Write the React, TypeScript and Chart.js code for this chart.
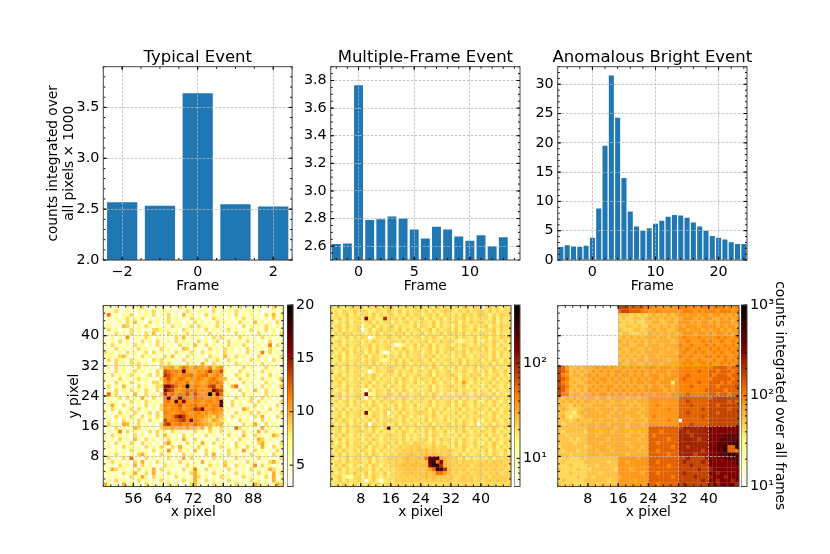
import { useEffect, useRef } from "react"
import { Chart, registerables } from "chart.js"

Chart.register(...registerables)

const FONT = "'DejaVu Sans'"

// ---- bar data ----
const typicalFrames = [-2, -1, 0, 1, 2]
const typicalCounts = [2.567, 2.534, 3.64, 2.548, 2.525]

const multiFrames = [-2, -1, 0, 1, 2, 3, 4, 5, 6, 7, 8, 9, 10, 11, 12, 13]
const multiCounts = [2.615, 2.62, 3.765, 2.79, 2.795, 2.815, 2.8, 2.72, 2.656, 2.74, 2.72, 2.67, 2.64, 2.68, 2.6, 2.665]

const brightFrames = [-5, -4, -3, -2, -1, 0, 1, 2, 3, 4, 5, 6, 7, 8, 9, 10, 11, 12, 13, 14, 15, 16, 17, 18, 19, 20, 21, 22, 23, 24]
const brightCounts = [2.2, 2.5, 2.3, 2.25, 2.45, 3.8, 8.8, 19.5, 31.5, 24.3, 14, 8.3, 5.7, 5, 5.4, 6.2, 6.7, 7.4, 7.7, 7.6, 7.2, 6.4, 5.7, 5, 4.1, 3.8, 3.5, 3.05, 2.75, 2.75]

// ---- heatmap cells, estimated by eye: rows run top (y=47) to bottom (y=0), one char per cell.
// Blocks and standout cells follow the picture, the fine noise is only approximate. ----
const typicalLevels = [3, 3, 3, 3, 3.5, 4, 5, 6, 7, 8.5, 9.5, 10, 10.5, 11, 11.5, 12, 13, 14, 15.5, 17, 20] // chars 0-9, a-k
const typicalRows = [
  "67585476 68956486 57649675 76584967 57869475 68574968",
  "56794685 57486957 86574697 58674957 68495768 57406857",
  "6e574869 47685947 69574a68 57496857 58594768 57496a57",
  "47685796 86957486 59684759 68474986 57486957 86584968",
  "57468597 a5749685 79586475 96857496 85749685 a6857496",
  "68574a96 58697485 74968579 49685796 58674958 68597486",
  "59684759 68574998 68574967 58496857 69485769 58496857",
  "47596859 57496a58 59684795 86759486 47496857 49675849",
  "568475d5 68597486 57496a58 67485969 75849685 74968574",
  "74859685 74968597 48596857 49685794 69578496 85749658",
  "85967485 96847596 85749685 a7496857 49685974 6857e496",
  "47596857 49685749 68574a96 85749685 96857496 85749857",
  "96858496 85794968 57496859 74968574 96857496 57e49685",
  "58769a85 74968574 96a57496 85749685 a7496857 49685749",
  "69598749 68574989 68574968 57496897 49685749 68574968",
  "57496859 79685749 69857496 85b74968 57498685 74968574",
  "58496857 49685749 bac9bfca dbcae9bd 68574968 57496857",
  "57496857 96857496 gfdecjcb bdcehcdg 85749685 74968574",
  "74968579 68579498 hgedceef cdefbcec 57498596 85749685",
  "85749685 79685749 egdcfebd cedbdfcb a5749685 7496857a",
  "57496859 68574998 dfcedcfb dcbcedfd 68574968 57496857",
  "69585a76 49685799 iihfcekc edcdghce 57af4685 7496857a",
  "57496859 68597496 ihgcldfe fcdcdihg 85749685 a7496857",
  "5f794685 a7496859 hdfcedgc gdcdkcif 68574968 57496857",
  "68579496 85b74968 ejcdiedc fdecdceb 57496859 74968574",
  "47685749 68597685 dfcjeidc edcdecdj 74968579 49685749",
  "58b74968 57496859 ecdegcde fcdecedj 74968574 96857496",
  "74968579 49685749 dcedfcde hgicdecd 68574b96 85749685",
  "85749685 96579496 edcdefdc decdbdcb 57496879 49685749",
  "57496859 74968597 dcehihed ecdba9ca 74968574 96b57496",
  "68574968 59749685 gdefghei edba9ca9 85749685 74968574",
  "49685ba7 49685749 ghdefdec fdcba9ab 68574968 b7496857",
  "57496857 b9685749 bacabaca a9b8a879 574f9685 74b68574",
  "5857e496 85749697 85968574 96859749 68574968 5b496857",
  "74968574 96857496 a8574968 57496857 49685a74 96857b96",
  "85749685 a7496857 49685b74 96857496 85749685 7b968574",
  "57496859 74968574 9c857496 85b74968 57496857 49b85749",
  "68574968 57496859 7496b857 49685749 68597496 85b74968",
  "47685749 68574968 5d749685 a7496857 49685c74 96857496",
  "58496857 49b85749 68574968 57496b57 49685749 68574968",
  "6957496f 57496857 49685b49 68574968 57496857 49685749",
  "74968574 96b57496 85749685 74b68574 96857496 85749b85",
  "85749685 b4968574 96857496 85749685 a7496857 d4968574",
  "57b96857 49685b49 68574968 e7496857 49685749 6857b968",
  "68574968 b7496b57 49685749 b8574968 57496857 49685b49",
  "47685749 68b74968 57496857 b9685749 68574968 57496b57",
  "58496857 49685749 68574968 b7496857 49685749 68574b68",
  "b8574b68 57496857 49685749 a8574968 57496857 b96857b9",
]

const multiLevels = [5.5, 12, 14.5, 16.5, 18, 20, 22, 24, 27, 34, 50, 90, 130, 170, 250] // chars 0-9, a-e
const multiRows = [
  "54634756 53647456 63546475 54637465 46375465 05746364",
  "45365474 65346547 54736456 47364576 53647456 64736455",
  "36457364 56473645 64537465 35647365 46375647 75364756",
  "54736456 4c5634b5 56473645 73645736 46573645 56473645",
  "63547365 45736456 36457364 65473645 57364756 64573645",
  "45637456 15473645 73645473 65473645 36475364 57364756",
  "54736456 04635746 54736456 45736456 47365473 46573645",
  "36475645 53647365 46573645 73645736 56473645 65473645",
  "63547364 65036547 54736456 36475364 47365473 57364756",
  "45736456 36475364 65473645 57364756 64135473 36475364",
  "54637456 45736456 40135473 64736456 36475364 65473645",
  "36475364 54736456 36475364 45736456 75364756 47365473",
  "63547365 63647301 53647456 35647365 46573645 56473645",
  "45736456 47365473 64736456 46573645 36475364 65473645",
  "54736456 36475314 57364756 54736456 45736456 36475364",
  "36457364 56473645 36475364 65473645 64737465 54736456",
  "54637456 45736456 65473645 36475364 47365473 65473645",
  "63547365 54036547 73645736 54736456 36475364 47365473",
  "45736456 36475364 54736456 45736456 75364756 36457364",
  "36475364 65473645 36475364 65473645 47365473 65473645",
  "54736456 45736456 47365473 36475364 36495364 45736456",
  "45637456 47365473 65473645 54736456 65473645 36475364",
  "63547365 30636547 36475364 45736456 47365473 54736456",
  "45736456 4c136547 54736456 36475364 36475364 65473645",
  "54736456 40636475 36475364 65473645 54736456 45736456",
  "36457364 65473645 65473645 54736456 47365473 36475364",
  "63547365 36475364 47365473 45736456 36475364 65473645",
  "16473645 54736456 36475364 47365473 45736456 54736456",
  "54637456 4c365470 54736456 65473645 47365473 36475364",
  "45736456 36475364 36475364 36475364 54736456 65473645",
  "36475364 54736456 65473645 47365473 47365473 36475364",
  "63547365 47065473 47365473 54736456 36475360 54736456",
  "54736456 3647536d 54736456 46573645 56473645 36475364",
  "45637456 65473645 36475364 47365473 36475364 65473645",
  "36475364 45736456 65473645 36475364 54736456 47365473",
  "54736456 36475364 56473645 57364756 36475364 54736456",
  "63547365 54736456 47365476 65473645 47365473 36475364",
  "45736456 47365473 64756767 56575674 36475364 65473645",
  "36475364 65473645 46576767 78676767 65473645 47365473",
  "54736456 36475364 65767876 78787767 54736456 36475364",
  "63547365 45736456 67678778 7adde987 67473645 54736566",
  "45637456 54736456 57678787 78deac87 67576756 67576756",
  "36475364 36475364 67787887 88ceeb87 76767567 76767675",
  "54736456 65473645 56778787 789aeeb8 67675676 67676756",
  "63546475 47365473 56677877 7878aa98 67567567 65767567",
  "45731156 36475364 56767676 78787776 75676756 67576766",
  "54736456 40473045 47676767 67676767 65676756 56767675",
  "36475364 54736456 56565656 65656556 56565656 56565656",
]

const brightLevels = [35, 45, 55, 65, 80, 100, 130, 170, 230, 320, 430, 600] // chars 0-9, a, b
const brightRows = [
  "........ ........ 77766665 54444444 55545455 45554545",
  "........ ........ 67766655 44544444 45554545 55455545",
  "........ ........ 22212121 23232323 44344344 34434343",
  "........ ........ 12112212 32323232 34443434 43343434",
  "........ ........ 21212112 23322332 44434344 34344434",
  "........ ........ 11221211 32232323 43444344 44343443",
  "........ ........ 21112212 23233223 44344434 34434344",
  "........ ........ 12211121 32323232 34443443 43443434",
  "........ ........ 23232323 33233233 45444544 44545445",
  "........ ........ 32323232 32333323 44544454 54454454",
  "........ ........ 23322332 33323333 54454445 45445454",
  "........ ........ 32233223 23333233 44544544 54544545",
  "........ ........ 23232323 33323332 45445454 45454454",
  "........ ........ 32323232 33233333 54454445 54545445",
  "........ ........ 23232332 33333233 44544544 45445454",
  "........ ........ 32233223 23323333 45454454 54454545",
  "76422323 33434343 34343434 44344434 55555555 56666566",
  "76523232 34343434 43434343 43444344 55555655 66566656",
  "75423323 43433434 34434343 44434344 55655555 65666566",
  "76532232 34344343 43343434 34434443 56555555 56666656",
  "75423223 43434334 34343443 44344404 55555655 66656566",
  "76532332 34343443 43434334 34434434 55565555 66566667",
  "76423232 43433434 34343434 44443434 55555556 66665666",
  "75523323 34344343 43434343 43444344 55655555 66566566",
  "32323232 33233233 33233233 44444444 66666666 67777777",
  "23232323 32323323 32332333 44444444 66766666 77777676",
  "32213232 23333233 33323233 44544444 66676666 77677777",
  "23211223 33233332 33233323 44444544 66666676 77777677",
  "22110232 33323323 23333233 44444444 66766666 77677777",
  "23101123 33333233 33233323 45444444 66666676 77777777",
  "22212322 23323332 33323332 44444544 .6666666 77777777",
  "21222232 33233233 33233323 44444444 66676666 77777777",
  "22222222 33233332 33233333 66666666 78888888 99999999",
  "21222221 33323323 33323233 66656666 88788888 99999999",
  "22122222 33233333 33233323 65666666 88878888 9999aaaa",
  "22212122 33333233 33333233 66666566 88888788 999aaaaa",
  "22221222 33323333 33233333 66566666 88888888 99aaaabb",
  "12222221 23333233 33323323 66666656 88788888 99aab66b",
  "21222122 33233323 33333233 66566666 88888878 99aab665",
  "22212222 33323333 33233333 66666566 88887888 999aabba",
  "11211121 22222222 44444344 66666666 77877778 9999aaaa",
  "12111112 22222122 44344444 66566666 78777787 9999999a",
  "11121111 22122222 44444444 66666566 77787777 99999999",
  "21111211 12222221 44434444 66666666 77777877 89999999",
  "11121111 22212222 44444434 66566666 78777777 99899999",
  "11111211 21222222 34444444 66666656 77778777 89998999",
  "12111112 22222122 44443444 66666666 77777787 99899989",
  "21121111 22122222 44444444 66566666 78777777 89899998",
]

// ---- ticks and colour limits ----
const typicalXTicks = [-2, 0, 2]
const typicalYTicks = [2, 2.5, 3, 3.5]
const multiXTicks = [0, 5, 10]
const multiYTicks = [2.6, 2.8, 3, 3.2, 3.4, 3.6, 3.8]
const brightXTicks = [0, 10, 20]
const brightYTicks = [0, 5, 10, 15, 20, 25, 30]
const heatXTicksTypical = [56, 64, 72, 80, 88]
const heatXTicks = [8, 16, 24, 32, 40]
const heatYTicks = [8, 16, 24, 32, 40]
const cbTicksTypical = [5, 10, 15, 20]
const cbTicksMulti = [10, 100]
const cbMinorMulti = [6, 7, 8, 9, 20, 30, 40, 50, 60, 70, 80, 90, 200, 300, 400]
const cbTicksBright = [10, 100, 1000]
const cbMinorBright = [20, 30, 40, 50, 60, 70, 80, 90, 200, 300, 400, 500, 600, 700, 800, 900]

const SUPER: Record<number, string> = { 10: "10¹", 100: "10²", 1000: "10³" }

type Frame = { left: number; top: number; width: number; height: number }

// matplotlib afmhot_r
function afmhotR(t: number) {
  const x = 1 - Math.min(1, Math.max(0, t))
  const c = (v: number) => Math.round(255 * Math.min(1, Math.max(0, v)))
  return `rgb(${c(2 * x)},${c(2 * x - 0.5)},${c(2 * x - 1)})`
}

// ticks pointing inward on every side, the frame, and the panel title centred on the axes
const framePlugin = {
  id: "frameTicks",
  afterDraw(chart: any, _args: any, opts: any) {
    const { ctx, chartArea: a, scales } = chart
    ctx.save()
    ctx.strokeStyle = "#000"
    ctx.lineWidth = 1
    const mark = (x0: number, y0: number, x1: number, y1: number) => {
      ctx.beginPath()
      ctx.moveTo(x0, y0)
      ctx.lineTo(x1, y1)
      ctx.stroke()
    }
    const sets = [
      [opts.xMajor || [], 3.5],
      [opts.xMinor || [], 2],
    ]
    for (const [vals, len] of sets as [number[], number][]) {
      for (const v of vals) {
        const p = scales.x.getPixelForValue(v)
        mark(p, a.bottom, p, a.bottom - len)
        mark(p, a.top, p, a.top + len)
      }
    }
    const ysets = [
      [opts.yMajor || [], 3.5],
      [opts.yMinor || [], 2],
    ]
    for (const [vals, len] of ysets as [number[], number][]) {
      for (const v of vals) {
        const p = scales.y.getPixelForValue(v)
        if (!opts.rightOnly) mark(a.left, p, a.left + len, p)
        mark(a.right, p, a.right - len, p)
      }
    }
    ctx.strokeStyle = "#444"
    ctx.lineWidth = 1
    ctx.strokeRect(a.left, a.top, a.right - a.left, a.bottom - a.top)
    if (opts.title) {
      ctx.fillStyle = "#000"
      ctx.font = `16.5px ${FONT}`
      ctx.textAlign = "center"
      ctx.textBaseline = "alphabetic"
      ctx.fillText(opts.title, (a.left + a.right) / 2, a.top - 5)
    }
    ctx.restore()
  },
}

const gridOpts = { z: 1, color: "#b8b8b8", lineWidth: 0.8, drawTicks: false, offset: false }
const borderOpts = { display: false, dash: [2.5, 1.5] }

function axis(min: number, max: number, ticks: number[], size: number, fmt: (v: number) => string, pad = 4) {
  return {
    type: "linear",
    min,
    max,
    offset: false,
    afterBuildTicks: (s: any) => {
      s.ticks = ticks.map((value) => ({ value }))
    },
    grid: gridOpts,
    border: borderOpts,
    ticks: { color: "#000", font: { family: FONT, size }, padding: pad, maxRotation: 0, autoSkip: false, callback: (v: any) => fmt(Number(v)) },
  }
}

const intLabel = (v: number) => (v < 0 ? "\u2212" + Math.abs(v) : String(v))

function ChartBox({ frame, ml, mr, mt, mb, make }: { frame: Frame; ml: number; mr: number; mt: number; mb: number; make: (m: any) => any }) {
  const ref = useRef<HTMLCanvasElement>(null)
  const canvasLeft = Math.floor(frame.left - ml)
  const canvasTop = Math.floor(frame.top - mt)
  const marginLeft = frame.left - canvasLeft
  const marginTop = frame.top - canvasTop
  const w = Math.ceil(marginLeft + frame.width + mr)
  const h = Math.ceil(marginTop + frame.height + mb)
  const marginRight = w - marginLeft - frame.width
  const marginBottom = h - marginTop - frame.height

  useEffect(() => {
    if (!ref.current) return
    const chart = new Chart(ref.current, make({ marginLeft, marginTop, marginRight, marginBottom }))
    return () => chart.destroy()
  }, [])

  return <canvas ref={ref} width={w} height={h} style={{ position: "absolute", left: canvasLeft, top: canvasTop, width: w, height: h }} />
}

function barConfig(m: any, title: string, frames: number[], values: number[], xMin: number, xMax: number, yMin: number, yMax: number, xTicks: number[], yTicks: number[], xMinor: number[], yMinor: number[], yFmt: (v: number) => string, yTitle?: string[]) {
  return {
    type: "bar",
    data: {
      datasets: [
        {
          data: frames.map((x, i) => ({ x, y: values[i] })),
          backgroundColor: "#1f77b4",
          borderWidth: 0,
          categoryPercentage: 0.8,
          barPercentage: 1,
        },
      ],
    },
    options: {
      responsive: false,
      animation: false,
      layout: { padding: { top: m.marginTop, right: m.marginRight, left: 0, bottom: 0 } },
      plugins: {
        legend: { display: false },
        tooltip: { enabled: false },
        frameTicks: { title, xMajor: xTicks, xMinor, yMajor: yTicks, yMinor },
      },
      scales: {
        x: {
          ...axis(xMin, xMax, xTicks, 14.3, intLabel),
          afterFit: (s: any) => {
            s.height = m.marginBottom
          },
          title: { display: true, text: "Frame", color: "#000", font: { family: FONT, size: 13.8, lineHeight: 1.2 }, padding: 0 },
        },
        y: {
          ...axis(yMin, yMax, yTicks, 14.3, yFmt),
          afterFit: (s: any) => {
            s.width = m.marginLeft
          },
          title: yTitle ? { display: true, text: yTitle, color: "#000", font: { family: FONT, size: 13.7, lineHeight: 1.2 }, padding: 0 } : { display: false },
        },
      },
    },
    plugins: [framePlugin],
  }
}

function heatConfig(m: any, frame: Frame, rows: string[], levels: number[], xMin: number, xTicks: number[], norm: (v: number) => number, showY: boolean) {
  const points: { x: number; y: number; v: number }[] = []
  rows.forEach((row, r) => {
    const cells = row.replace(/ /g, "")
    for (let c = 0; c < Math.min(48, cells.length); c++) {
      if (cells[c] === ".") continue
      points.push({ x: xMin + c + 0.5, y: rows.length - 1 - r + 0.5, v: levels[parseInt(cells[c], 36)] })
    }
  })
  const side = frame.width / 48 + 0.25
  const evens = (from: number) => Array.from({ length: 24 }, (_, i) => from + i * 2)
  return {
    type: "scatter",
    data: {
      datasets: [
        {
          data: points,
          pointStyle: "rect",
          pointRadius: side / Math.SQRT2,
          pointBorderWidth: 0,
          pointBackgroundColor: (ctx: any) => afmhotR(norm(ctx.raw ? ctx.raw.v : 0)),
        },
      ],
    },
    options: {
      responsive: false,
      animation: false,
      events: [],
      layout: { padding: { top: m.marginTop, right: m.marginRight, left: 0, bottom: 0 } },
      plugins: {
        legend: { display: false },
        tooltip: { enabled: false },
        frameTicks: { xMajor: xTicks, xMinor: evens(xMin), yMajor: heatYTicks, yMinor: evens(0) },
      },
      scales: {
        x: {
          ...axis(xMin, xMin + 48, xTicks, 14.3, intLabel),
          afterFit: (s: any) => {
            s.height = m.marginBottom
          },
          title: { display: true, text: "x pixel", color: "#000", font: { family: FONT, size: 13.8, lineHeight: 1.2 }, padding: 0 },
        },
        y: {
          ...axis(0, 48, heatYTicks, 14.3, (v) => (showY ? intLabel(v) : "")),
          afterFit: (s: any) => {
            s.width = m.marginLeft
          },
          title: showY ? { display: true, text: "y pixel", color: "#000", font: { family: FONT, size: 13.7, lineHeight: 1.2 }, padding: 0 } : { display: false },
        },
      },
    },
    plugins: [framePlugin],
  }
}

function colorbarConfig(m: any, type: string, min: number, max: number, ticks: number[], minor: number[], fmt: (v: number) => string, title?: string) {
  const stops = (chart: any) => {
    const a = chart.chartArea
    if (!a) return "#000"
    const g = chart.ctx.createLinearGradient(0, a.bottom, 0, a.top)
    for (const t of [0, 0.25, 0.5, 0.75, 1]) g.addColorStop(t, afmhotR(t))
    return g
  }
  return {
    type: "bar",
    data: {
      labels: [""],
      datasets: [{ data: [[min, max]], backgroundColor: (ctx: any) => stops(ctx.chart), categoryPercentage: 1, barPercentage: 1, borderWidth: 0, borderSkipped: false }],
    },
    options: {
      responsive: false,
      animation: false,
      events: [],
      layout: { padding: { top: m.marginTop, bottom: m.marginBottom, left: 0, right: 0 } },
      plugins: {
        legend: { display: false },
        tooltip: { enabled: false },
        frameTicks: { yMajor: ticks, yMinor: minor, rightOnly: true },
      },
      scales: {
        x: { display: false },
        y: {
          type,
          position: "right",
          min,
          max,
          afterBuildTicks: (s: any) => {
            s.ticks = ticks.map((value) => ({ value }))
          },
          afterFit: (s: any) => {
            s.width = m.marginRight
          },
          grid: { display: false, drawTicks: false },
          border: { display: false },
          ticks: { color: "#000", font: { family: FONT, size: 14.3 }, padding: 3, autoSkip: false, callback: (v: any) => fmt(Number(v)) },
          title: title ? { display: true, text: title, color: "#000", font: { family: FONT, size: 13.7, lineHeight: 1.2 }, padding: 0 } : { display: false },
        },
      },
    },
    plugins: [framePlugin],
  }
}

const range = (from: number, to: number, step: number) => {
  const out: number[] = []
  for (let i = 0; from + i * step <= to + 1e-9; i++) out.push(from + i * step)
  return out
}

const TOP_Y = 66.7
const TOP_H = 193.3
const BOT_Y = 305
const BOT_H = 181.5

const logNorm = (lo: number, hi: number) => (v: number) => Math.log(v / lo) / Math.log(hi / lo)

export default function App() {
  const f1 = { left: 103.3, top: TOP_Y, width: 188.8, height: TOP_H }
  const f2 = { left: 330.7, top: TOP_Y, width: 189.3, height: TOP_H }
  const f3 = { left: 557.7, top: TOP_Y, width: 189.3, height: TOP_H }
  const h1 = { left: 103.3, top: BOT_Y, width: 180, height: BOT_H }
  const h2 = { left: 330.7, top: BOT_Y, width: 180.3, height: BOT_H }
  const h3 = { left: 557.7, top: BOT_Y, width: 181.3, height: BOT_H }
  const c1 = { left: 287.7, top: BOT_Y, width: 5.4, height: BOT_H }
  const c2 = { left: 514.3, top: BOT_Y, width: 5.7, height: BOT_H }
  const c3 = { left: 741, top: BOT_Y, width: 6, height: BOT_H }
  const box = { position: "absolute", left: 0, top: 0, width: 830, height: 554, background: "#fff" } as const

  return (
    <div style={box}>
      <ChartBox frame={f1} ml={58.3} mr={30} mt={26} mb={34.5} make={(m) => barConfig(m, "Typical Event", typicalFrames, typicalCounts, -2.5, 2.5, 2, 3.9, typicalXTicks, typicalYTicks, range(-2.5, 2.5, 0.5), range(2, 3.9, 0.1), (v) => v.toFixed(1), ["counts integrated over", "all pixels \u00d7 1000"])} />
      <ChartBox frame={f2} ml={40} mr={30} mt={26} mb={34.5} make={(m) => barConfig(m, "Multiple-Frame Event", multiFrames, multiCounts, -2.5, 14.5, 2.5, 3.9, multiXTicks, multiYTicks, range(-2, 14, 1), range(2.5, 3.9, 0.05), (v) => v.toFixed(1))} />
      <ChartBox frame={f3} ml={40} mr={30} mt={26} mb={34.5} make={(m) => barConfig(m, "Anomalous Bright Event", brightFrames, brightCounts, -5.5, 24.5, 0, 33, brightXTicks, brightYTicks, range(-4, 24, 2), range(0, 33, 1), (v) => String(v))} />

      <ChartBox frame={h1} ml={37.3} mr={12} mt={12} mb={34.5} make={(m) => heatConfig(m, h1, typicalRows, typicalLevels, 48, heatXTicksTypical, (v) => (v - 3) / 17, true)} />
      <ChartBox frame={h2} ml={20} mr={12} mt={12} mb={34.5} make={(m) => heatConfig(m, h2, multiRows, multiLevels, 0, heatXTicks, logNorm(5.07, 407), false)} />
      <ChartBox frame={h3} ml={20} mr={12} mt={12} mb={34.5} make={(m) => heatConfig(m, h3, brightRows, brightLevels, 0, heatXTicks, logNorm(10, 1000), false)} />

      <ChartBox frame={c1} ml={0} mr={26} mt={30} mb={30} make={(m) => colorbarConfig(m, "linear", 3, 20, cbTicksTypical, [], (v) => String(v))} />
      <ChartBox frame={c2} ml={0} mr={28} mt={30} mb={30} make={(m) => colorbarConfig(m, "logarithmic", 5.07, 407, cbTicksMulti, cbMinorMulti, (v) => SUPER[v] || "")} />
      <ChartBox frame={c3} ml={0} mr={41} mt={30} mb={30} make={(m) => colorbarConfig(m, "logarithmic", 10, 1000, cbTicksBright, cbMinorBright, (v) => SUPER[v] || "", "counts integrated over all frames")} />
    </div>
  )
}
